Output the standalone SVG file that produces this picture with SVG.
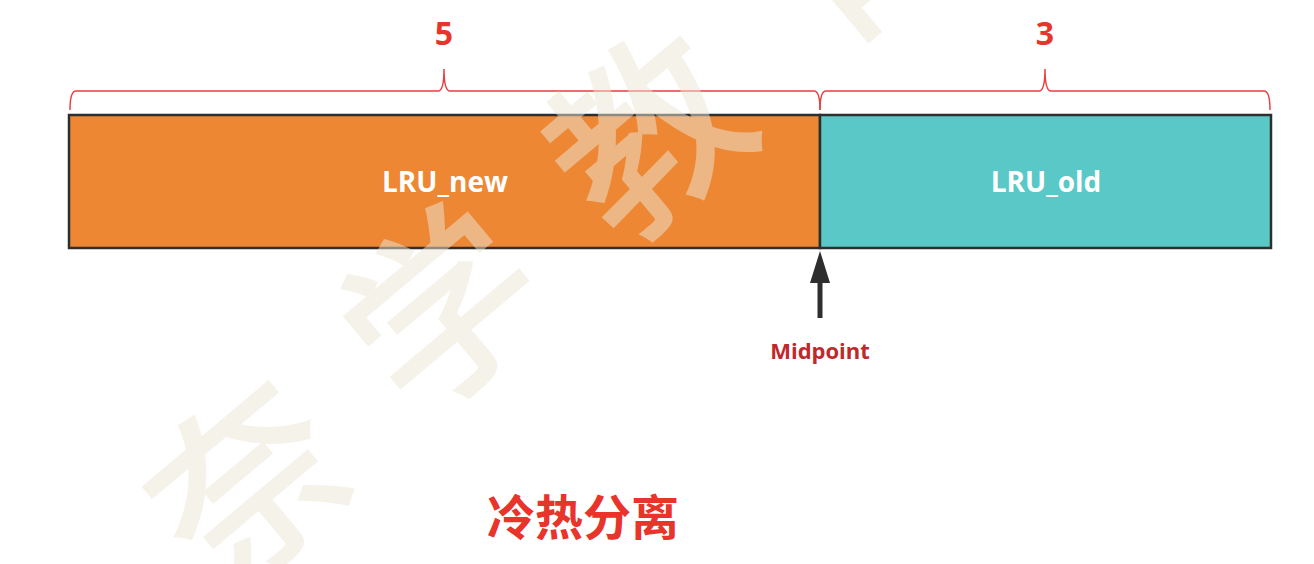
<svg xmlns="http://www.w3.org/2000/svg" width="1314" height="564" viewBox="0 0 1314 564">
<style>
.wm{font-family:"Noto Sans CJK SC",sans-serif;font-size:190px;font-weight:500;fill:#ece6d6;opacity:0.5;text-anchor:middle;dominant-baseline:central}
.num{font-family:"Open Sans","Liberation Sans",sans-serif;font-weight:700;font-size:32px;fill:#e8342a;text-anchor:middle}
.lbl{font-family:"Open Sans","Liberation Sans",sans-serif;font-weight:700;font-size:28px;fill:#ffffff;text-anchor:middle}
.brace{fill:none;stroke:#e8403e;stroke-width:1.5}
.seg{stroke:#2e2e2e;stroke-width:2.5}
</style>
<rect width="1314" height="564" fill="#ffffff"/>
<g id="braces">
<path class="brace" d="M70,110 Q70,91 76,91 H438 Q444,91 444,69 Q444,91 450,91 H814 Q820,91 820,110"/>
<path class="brace" d="M820,110 Q820,91 826,91 H1039 Q1045,91 1045,69 Q1045,91 1051,91 H1264 Q1270,91 1270,110"/>
<text class="num" x="444" y="45">5</text>
<text class="num" x="1045" y="45">3</text>
</g>
<g id="lru_new">
<rect class="seg" x="69" y="115" width="751" height="133" fill="#ed8733"/>
<text class="lbl" x="445" y="192">LRU_new</text>
</g>
<g id="lru_old">
<rect class="seg" x="820" y="115" width="451" height="133" fill="#5bc8c8"/>
<text class="lbl" x="1046" y="192">LRU_old</text>
</g>
<g id="connectors">
<line x1="820" y1="318" x2="820" y2="278" stroke="#2e2e2e" stroke-width="5"/>
<polygon points="820,251 810,283 830,283" fill="#2e2e2e"/>
</g>
<g id="midpoint">
<text x="820" y="359" font-family="'Open Sans','Liberation Sans',sans-serif" font-weight="700" font-size="22" fill="#c0282c" text-anchor="middle">Midpoint</text>
</g>
<g id="title">
<text x="583" y="535" font-family="'Noto Sans CJK SC',sans-serif" font-weight="700" font-size="48" fill="#e8342a" text-anchor="middle">冷热分离</text>
</g>
<g id="watermark">
<text class="wm" transform="translate(240,475) rotate(-40)">奈</text>
<text class="wm" transform="translate(435,300) rotate(-40)">学</text>
<text class="wm" transform="translate(640,125) rotate(-40)">教</text>
<text class="wm" transform="translate(850,-70) rotate(-40)">育</text>
</g>
</svg>
